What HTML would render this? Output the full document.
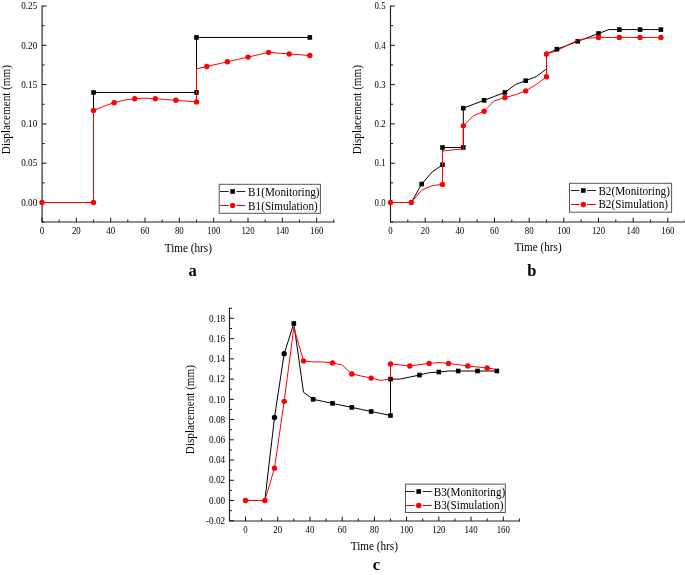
<!DOCTYPE html>
<html><head><meta charset="utf-8"><style>
html,body{margin:0;padding:0;background:#fff;}
body{width:685px;height:575px;overflow:hidden;}
svg{display:block;font-family:"Liberation Serif", serif;will-change:transform;}
text{fill:#000;}
</style></head><body>
<svg width="685" height="575" viewBox="0 0 685 575">
<path d="M42.10 6.00V222.00H333.84" fill="none" stroke="#222" stroke-width="1.15" stroke-linecap="square"/>
<path d="M42.10 202.50h4.4M42.10 163.20h4.4M42.10 123.90h4.4M42.10 84.60h4.4M42.10 45.30h4.4M42.10 6.00h4.4M42.10 222.15h2.5M42.10 182.85h2.5M42.10 143.55h2.5M42.10 104.25h2.5M42.10 64.95h2.5M42.10 25.65h2.5M42.00 222.00v-4.4M76.33 222.00v-4.4M110.67 222.00v-4.4M145.00 222.00v-4.4M179.34 222.00v-4.4M213.67 222.00v-4.4M248.00 222.00v-4.4M282.34 222.00v-4.4M316.67 222.00v-4.4M59.17 222.00v-2.5M93.50 222.00v-2.5M127.83 222.00v-2.5M162.17 222.00v-2.5M196.50 222.00v-2.5M230.84 222.00v-2.5M265.17 222.00v-2.5M299.50 222.00v-2.5M333.84 222.00v-2.5" fill="none" stroke="#111" stroke-width="1"/>
<text transform="translate(37.20,205.70) scale(0.96,1)" text-anchor="end" font-size="9.5">0.00</text>
<text transform="translate(37.20,166.40) scale(0.96,1)" text-anchor="end" font-size="9.5">0.05</text>
<text transform="translate(37.20,127.10) scale(0.96,1)" text-anchor="end" font-size="9.5">0.10</text>
<text transform="translate(37.20,87.80) scale(0.96,1)" text-anchor="end" font-size="9.5">0.15</text>
<text transform="translate(37.20,48.50) scale(0.96,1)" text-anchor="end" font-size="9.5">0.20</text>
<text transform="translate(37.20,9.20) scale(0.96,1)" text-anchor="end" font-size="9.5">0.25</text>
<text transform="translate(42.00,233.70) scale(0.93,1)" text-anchor="middle" font-size="9.5">0</text>
<text transform="translate(76.33,233.70) scale(0.93,1)" text-anchor="middle" font-size="9.5">20</text>
<text transform="translate(110.67,233.70) scale(0.93,1)" text-anchor="middle" font-size="9.5">40</text>
<text transform="translate(145.00,233.70) scale(0.93,1)" text-anchor="middle" font-size="9.5">60</text>
<text transform="translate(179.34,233.70) scale(0.93,1)" text-anchor="middle" font-size="9.5">80</text>
<text transform="translate(213.67,233.70) scale(0.93,1)" text-anchor="middle" font-size="9.5">100</text>
<text transform="translate(248.00,233.70) scale(0.93,1)" text-anchor="middle" font-size="9.5">120</text>
<text transform="translate(282.34,233.70) scale(0.93,1)" text-anchor="middle" font-size="9.5">140</text>
<text transform="translate(316.67,233.70) scale(0.93,1)" text-anchor="middle" font-size="9.5">160</text>
<path d="M42.00 202.50L93.50 202.50L93.50 92.46L196.50 92.46L196.50 37.44L309.81 37.44" fill="none" stroke="#000" stroke-width="1.0" stroke-linejoin="round"/>
<rect x="91.20" y="90.16" width="4.6" height="4.6" fill="#000"/>
<rect x="194.20" y="90.16" width="4.6" height="4.6" fill="#000"/>
<rect x="194.20" y="35.14" width="4.6" height="4.6" fill="#000"/>
<rect x="307.51" y="35.14" width="4.6" height="4.6" fill="#000"/>
<path d="M42.00 202.50L93.50 202.50L93.50 110.54L103.80 106.22L114.10 102.68L124.40 100.08L134.70 98.75L145.00 98.12L155.30 98.75L165.60 99.53L175.90 100.32L186.20 101.11L196.50 101.89L196.50 68.88L206.80 66.52L217.10 64.16L227.40 61.81L237.70 59.45L248.00 57.09L258.30 54.73L268.60 52.37L278.90 53.16L289.20 53.95L299.50 54.73L309.81 55.52" fill="none" stroke="#ff0000" stroke-width="1.0" stroke-linejoin="round"/>
<circle cx="42.00" cy="202.50" r="2.7" fill="#ff0000"/>
<circle cx="93.50" cy="202.50" r="2.7" fill="#ff0000"/>
<circle cx="93.50" cy="110.54" r="2.7" fill="#ff0000"/>
<circle cx="114.10" cy="102.68" r="2.7" fill="#ff0000"/>
<circle cx="134.70" cy="98.75" r="2.7" fill="#ff0000"/>
<circle cx="155.30" cy="98.75" r="2.7" fill="#ff0000"/>
<circle cx="175.90" cy="100.32" r="2.7" fill="#ff0000"/>
<circle cx="196.50" cy="101.89" r="2.7" fill="#ff0000"/>
<circle cx="206.80" cy="66.52" r="2.7" fill="#ff0000"/>
<circle cx="227.40" cy="61.81" r="2.7" fill="#ff0000"/>
<circle cx="248.00" cy="57.09" r="2.7" fill="#ff0000"/>
<circle cx="268.60" cy="52.37" r="2.7" fill="#ff0000"/>
<circle cx="289.20" cy="53.95" r="2.7" fill="#ff0000"/>
<circle cx="309.81" cy="55.52" r="2.7" fill="#ff0000"/>
<rect x="219.20" y="184.30" width="101.20" height="29.00" fill="#fff" stroke="#555" stroke-width="1"/>
<path d="M220 191.5H228.7M236.5 191.5H245.3" stroke="#222" stroke-width="1"/>
<rect x="230.30" y="189.20" width="4.6" height="4.6" fill="#000"/>
<path d="M220 205.5H228.7M236.5 205.5H245.3" stroke="#ff0000" stroke-width="1"/>
<circle cx="232.60" cy="205.50" r="2.7" fill="#ff0000"/>
<text transform="translate(248.1,195.8) scale(0.8929,1)" font-size="12.54">B1(Monitoring)</text>
<text transform="translate(248.1,209.6) scale(0.8929,1)" font-size="12.54">B1(Simulation)</text>
<text transform="translate(9.7,109.6) rotate(-90) scale(0.8929,1)" text-anchor="middle" font-size="12.54">Displacement (mm)</text>
<text transform="translate(188.3,251.7) scale(0.8929,1)" text-anchor="middle" font-size="12.54">Time (hrs)</text>
<text x="192.5" y="275.5" text-anchor="middle" font-size="16.5" font-weight="bold">a</text>
<path d="M390.50 6.00V222.00H685.16" fill="none" stroke="#222" stroke-width="1.15" stroke-linecap="square"/>
<path d="M390.50 202.50h4.4M390.50 163.20h4.4M390.50 123.90h4.4M390.50 84.60h4.4M390.50 45.30h4.4M390.50 6.00h4.4M390.50 222.15h2.5M390.50 182.85h2.5M390.50 143.55h2.5M390.50 104.25h2.5M390.50 64.95h2.5M390.50 25.65h2.5M390.50 222.00v-4.4M425.17 222.00v-4.4M459.83 222.00v-4.4M494.50 222.00v-4.4M529.16 222.00v-4.4M563.83 222.00v-4.4M598.50 222.00v-4.4M633.16 222.00v-4.4M667.83 222.00v-4.4M407.83 222.00v-2.5M442.50 222.00v-2.5M477.17 222.00v-2.5M511.83 222.00v-2.5M546.50 222.00v-2.5M581.16 222.00v-2.5M615.83 222.00v-2.5M650.50 222.00v-2.5M685.16 222.00v-2.5" fill="none" stroke="#111" stroke-width="1"/>
<text transform="translate(385.60,205.70) scale(0.93,1)" text-anchor="end" font-size="9.5">0.0</text>
<text transform="translate(385.60,166.40) scale(0.93,1)" text-anchor="end" font-size="9.5">0.1</text>
<text transform="translate(385.60,127.10) scale(0.93,1)" text-anchor="end" font-size="9.5">0.2</text>
<text transform="translate(385.60,87.80) scale(0.93,1)" text-anchor="end" font-size="9.5">0.3</text>
<text transform="translate(385.60,48.50) scale(0.93,1)" text-anchor="end" font-size="9.5">0.4</text>
<text transform="translate(385.60,9.20) scale(0.93,1)" text-anchor="end" font-size="9.5">0.5</text>
<text transform="translate(390.50,233.70) scale(0.93,1)" text-anchor="middle" font-size="9.5">0</text>
<text transform="translate(425.17,233.70) scale(0.93,1)" text-anchor="middle" font-size="9.5">20</text>
<text transform="translate(459.83,233.70) scale(0.93,1)" text-anchor="middle" font-size="9.5">40</text>
<text transform="translate(494.50,233.70) scale(0.93,1)" text-anchor="middle" font-size="9.5">60</text>
<text transform="translate(529.16,233.70) scale(0.93,1)" text-anchor="middle" font-size="9.5">80</text>
<text transform="translate(563.83,233.70) scale(0.93,1)" text-anchor="middle" font-size="9.5">100</text>
<text transform="translate(598.50,233.70) scale(0.93,1)" text-anchor="middle" font-size="9.5">120</text>
<text transform="translate(633.16,233.70) scale(0.93,1)" text-anchor="middle" font-size="9.5">140</text>
<text transform="translate(667.83,233.70) scale(0.93,1)" text-anchor="middle" font-size="9.5">160</text>
<path d="M390.50 202.50L411.30 202.50L421.70 184.03L432.10 172.04L442.50 164.77L442.50 147.48L463.30 147.48L463.30 108.18L473.70 104.25L484.10 100.32L494.50 96.39L504.90 92.46L515.30 84.60L525.70 80.67L536.10 76.74L546.50 68.88L546.50 53.95L556.90 49.23L567.30 45.30L577.70 41.37L588.10 37.44L598.50 33.51L608.90 29.58L619.30 29.58L629.70 29.58L640.10 29.58L650.50 29.58L660.89 29.58" fill="none" stroke="#000" stroke-width="1.0" stroke-linejoin="round"/>
<rect x="419.40" y="181.73" width="4.6" height="4.6" fill="#000"/>
<rect x="440.20" y="162.47" width="4.6" height="4.6" fill="#000"/>
<rect x="440.20" y="145.18" width="4.6" height="4.6" fill="#000"/>
<rect x="461.00" y="145.18" width="4.6" height="4.6" fill="#000"/>
<rect x="461.00" y="105.88" width="4.6" height="4.6" fill="#000"/>
<rect x="481.80" y="98.02" width="4.6" height="4.6" fill="#000"/>
<rect x="502.60" y="90.16" width="4.6" height="4.6" fill="#000"/>
<rect x="523.40" y="78.37" width="4.6" height="4.6" fill="#000"/>
<rect x="575.40" y="39.07" width="4.6" height="4.6" fill="#000"/>
<rect x="596.20" y="31.21" width="4.6" height="4.6" fill="#000"/>
<rect x="617.00" y="27.28" width="4.6" height="4.6" fill="#000"/>
<rect x="637.80" y="27.28" width="4.6" height="4.6" fill="#000"/>
<rect x="658.59" y="27.28" width="4.6" height="4.6" fill="#000"/>
<path d="M390.50 202.50L411.30 202.50L421.70 190.08L432.10 185.60L442.50 184.42L442.50 151.13L452.90 149.84L463.30 149.05L463.30 125.86L473.70 115.65L484.10 111.32L494.50 100.71L504.90 97.57L515.30 94.82L525.70 90.89L536.10 84.60L546.50 76.74L546.50 53.95L556.90 50.80L567.30 45.30L577.70 40.19L588.10 38.23L598.50 37.44L608.90 37.44L619.30 37.44L629.70 37.44L640.10 37.44L650.50 37.44L660.89 37.44" fill="none" stroke="#ff0000" stroke-width="1.0" stroke-linejoin="round"/>
<circle cx="390.50" cy="202.50" r="2.7" fill="#ff0000"/>
<circle cx="411.30" cy="202.50" r="2.7" fill="#ff0000"/>
<circle cx="442.50" cy="184.42" r="2.7" fill="#ff0000"/>
<circle cx="463.30" cy="125.86" r="2.7" fill="#ff0000"/>
<circle cx="484.10" cy="111.32" r="2.7" fill="#ff0000"/>
<circle cx="504.90" cy="97.57" r="2.7" fill="#ff0000"/>
<circle cx="525.70" cy="90.89" r="2.7" fill="#ff0000"/>
<circle cx="546.50" cy="76.74" r="2.7" fill="#ff0000"/>
<circle cx="546.50" cy="53.95" r="2.7" fill="#ff0000"/>
<circle cx="598.50" cy="37.44" r="2.7" fill="#ff0000"/>
<circle cx="619.30" cy="37.44" r="2.7" fill="#ff0000"/>
<circle cx="640.10" cy="37.44" r="2.7" fill="#ff0000"/>
<circle cx="660.89" cy="37.44" r="2.7" fill="#ff0000"/>
<rect x="554.60" y="46.93" width="4.6" height="4.6" fill="#000"/>
<rect x="569.50" y="183.30" width="102.10" height="28.90" fill="#fff" stroke="#555" stroke-width="1"/>
<path d="M571 190.5H579.4M587.1999999999999 190.5H595.9" stroke="#222" stroke-width="1"/>
<rect x="581.00" y="188.20" width="4.6" height="4.6" fill="#000"/>
<path d="M571 204.5H579.4M587.1999999999999 204.5H595.9" stroke="#ff0000" stroke-width="1"/>
<circle cx="583.30" cy="204.50" r="2.7" fill="#ff0000"/>
<text transform="translate(598.4,194.5) scale(0.8929,1)" font-size="12.54">B2(Monitoring)</text>
<text transform="translate(598.4,208.4) scale(0.8929,1)" font-size="12.54">B2(Simulation)</text>
<text transform="translate(361.4,109.6) rotate(-90) scale(0.8929,1)" text-anchor="middle" font-size="12.54">Displacement (mm)</text>
<text transform="translate(538.1,251.3) scale(0.8929,1)" text-anchor="middle" font-size="12.54">Time (hrs)</text>
<text x="531.9" y="275.8" text-anchor="middle" font-size="16.5" font-weight="bold">b</text>
<path d="M229.50 308.28V521.00H519.39" fill="none" stroke="#222" stroke-width="1.15" stroke-linecap="square"/>
<path d="M229.50 520.73h4.4M229.50 500.50h4.4M229.50 480.27h4.4M229.50 460.03h4.4M229.50 439.80h4.4M229.50 419.56h4.4M229.50 399.33h4.4M229.50 379.10h4.4M229.50 358.86h4.4M229.50 338.63h4.4M229.50 318.39h4.4M229.50 510.62h2.5M229.50 490.38h2.5M229.50 470.15h2.5M229.50 449.91h2.5M229.50 429.68h2.5M229.50 409.45h2.5M229.50 389.21h2.5M229.50 368.98h2.5M229.50 348.75h2.5M229.50 328.51h2.5M229.50 308.28h2.5M245.50 521.00v-4.4M277.72 521.00v-4.4M309.94 521.00v-4.4M342.17 521.00v-4.4M374.39 521.00v-4.4M406.61 521.00v-4.4M438.83 521.00v-4.4M471.05 521.00v-4.4M503.28 521.00v-4.4M261.61 521.00v-2.5M293.83 521.00v-2.5M326.06 521.00v-2.5M358.28 521.00v-2.5M390.50 521.00v-2.5M422.72 521.00v-2.5M454.94 521.00v-2.5M487.16 521.00v-2.5M519.39 521.00v-2.5" fill="none" stroke="#111" stroke-width="1"/>
<text transform="translate(225.20,523.93) scale(0.97,1)" text-anchor="end" font-size="9.5">-0.02</text>
<text transform="translate(225.20,503.70) scale(0.97,1)" text-anchor="end" font-size="9.5">0.00</text>
<text transform="translate(225.20,483.47) scale(0.97,1)" text-anchor="end" font-size="9.5">0.02</text>
<text transform="translate(225.20,463.23) scale(0.97,1)" text-anchor="end" font-size="9.5">0.04</text>
<text transform="translate(225.20,443.00) scale(0.97,1)" text-anchor="end" font-size="9.5">0.06</text>
<text transform="translate(225.20,422.76) scale(0.97,1)" text-anchor="end" font-size="9.5">0.08</text>
<text transform="translate(225.20,402.53) scale(0.97,1)" text-anchor="end" font-size="9.5">0.10</text>
<text transform="translate(225.20,382.30) scale(0.97,1)" text-anchor="end" font-size="9.5">0.12</text>
<text transform="translate(225.20,362.06) scale(0.97,1)" text-anchor="end" font-size="9.5">0.14</text>
<text transform="translate(225.20,341.83) scale(0.97,1)" text-anchor="end" font-size="9.5">0.16</text>
<text transform="translate(225.20,321.59) scale(0.97,1)" text-anchor="end" font-size="9.5">0.18</text>
<text transform="translate(245.50,532.70) scale(0.93,1)" text-anchor="middle" font-size="9.5">0</text>
<text transform="translate(277.72,532.70) scale(0.93,1)" text-anchor="middle" font-size="9.5">20</text>
<text transform="translate(309.94,532.70) scale(0.93,1)" text-anchor="middle" font-size="9.5">40</text>
<text transform="translate(342.17,532.70) scale(0.93,1)" text-anchor="middle" font-size="9.5">60</text>
<text transform="translate(374.39,532.70) scale(0.93,1)" text-anchor="middle" font-size="9.5">80</text>
<text transform="translate(406.61,532.70) scale(0.93,1)" text-anchor="middle" font-size="9.5">100</text>
<text transform="translate(438.83,532.70) scale(0.93,1)" text-anchor="middle" font-size="9.5">120</text>
<text transform="translate(471.05,532.70) scale(0.93,1)" text-anchor="middle" font-size="9.5">140</text>
<text transform="translate(503.28,532.70) scale(0.93,1)" text-anchor="middle" font-size="9.5">160</text>
<path d="M245.50 500.50L264.83 500.50L274.50 417.54L284.17 353.80L293.83 323.45L303.50 392.25L313.17 399.33L322.83 401.35L332.50 403.38L342.17 405.40L351.83 407.42L361.50 409.45L371.17 411.47L380.83 413.49L390.50 415.52L390.50 379.10L400.17 379.10L409.83 377.07L419.50 375.05L429.17 372.72L438.83 372.01L448.50 371.00L458.17 371.00L467.83 371.00L477.50 371.00L487.16 371.00L496.83 371.00" fill="none" stroke="#000" stroke-width="1.0" stroke-linejoin="round"/>
<rect x="291.53" y="321.15" width="4.6" height="4.6" fill="#000"/>
<rect x="310.87" y="397.03" width="4.6" height="4.6" fill="#000"/>
<rect x="330.20" y="401.08" width="4.6" height="4.6" fill="#000"/>
<rect x="349.53" y="405.12" width="4.6" height="4.6" fill="#000"/>
<rect x="368.87" y="409.17" width="4.6" height="4.6" fill="#000"/>
<rect x="388.20" y="413.22" width="4.6" height="4.6" fill="#000"/>
<rect x="388.20" y="376.80" width="4.6" height="4.6" fill="#000"/>
<rect x="417.20" y="372.75" width="4.6" height="4.6" fill="#000"/>
<rect x="436.53" y="369.71" width="4.6" height="4.6" fill="#000"/>
<rect x="455.87" y="368.70" width="4.6" height="4.6" fill="#000"/>
<rect x="475.20" y="368.70" width="4.6" height="4.6" fill="#000"/>
<rect x="494.53" y="368.70" width="4.6" height="4.6" fill="#000"/>
<circle cx="274.50" cy="417.54" r="2.7" fill="#000"/>
<circle cx="284.17" cy="353.80" r="2.7" fill="#000"/>
<path d="M245.50 500.50L264.83 500.50L274.50 468.13L284.17 401.35L293.83 327.50L303.50 360.89L313.17 361.90L322.83 361.90L332.50 362.91L342.17 364.93L351.83 374.04L361.50 376.06L371.17 378.08L380.83 380.31L390.50 379.10L390.50 363.92L409.83 365.94L429.17 363.41L438.83 362.50L448.50 363.41L467.83 365.94L487.16 367.97L496.83 369.48" fill="none" stroke="#ff0000" stroke-width="1.0" stroke-linejoin="round"/>
<circle cx="245.50" cy="500.50" r="2.7" fill="#ff0000"/>
<circle cx="264.83" cy="500.50" r="2.7" fill="#ff0000"/>
<circle cx="274.50" cy="468.13" r="2.7" fill="#ff0000"/>
<circle cx="284.17" cy="401.35" r="2.7" fill="#ff0000"/>
<circle cx="303.50" cy="360.89" r="2.7" fill="#ff0000"/>
<circle cx="332.50" cy="362.91" r="2.7" fill="#ff0000"/>
<circle cx="351.83" cy="374.04" r="2.7" fill="#ff0000"/>
<circle cx="371.17" cy="378.08" r="2.7" fill="#ff0000"/>
<circle cx="390.50" cy="363.92" r="2.7" fill="#ff0000"/>
<circle cx="409.83" cy="365.94" r="2.7" fill="#ff0000"/>
<circle cx="429.17" cy="363.41" r="2.7" fill="#ff0000"/>
<circle cx="448.50" cy="363.41" r="2.7" fill="#ff0000"/>
<circle cx="467.83" cy="365.94" r="2.7" fill="#ff0000"/>
<circle cx="487.16" cy="367.97" r="2.7" fill="#ff0000"/>
<rect x="405.50" y="484.10" width="99.80" height="28.40" fill="#fff" stroke="#555" stroke-width="1"/>
<path d="M405.8 491.5H414.8M422.59999999999997 491.5H431.6" stroke="#222" stroke-width="1"/>
<rect x="416.40" y="489.20" width="4.6" height="4.6" fill="#000"/>
<path d="M405.8 505.5H414.8M422.59999999999997 505.5H431.6" stroke="#ff0000" stroke-width="1"/>
<circle cx="418.70" cy="505.50" r="2.7" fill="#ff0000"/>
<text transform="translate(433.8,495.7) scale(0.8929,1)" font-size="12.54">B3(Monitoring)</text>
<text transform="translate(433.8,509.0) scale(0.8929,1)" font-size="12.54">B3(Simulation)</text>
<text transform="translate(194.4,409.6) rotate(-90) scale(0.8929,1)" text-anchor="middle" font-size="12.54">Displacement (mm)</text>
<text transform="translate(374.3,549.6) scale(0.8929,1)" text-anchor="middle" font-size="12.54">Time (hrs)</text>
<text x="376.5" y="569.5" text-anchor="middle" font-size="16.5" font-weight="bold">c</text>
</svg>
</body></html>
